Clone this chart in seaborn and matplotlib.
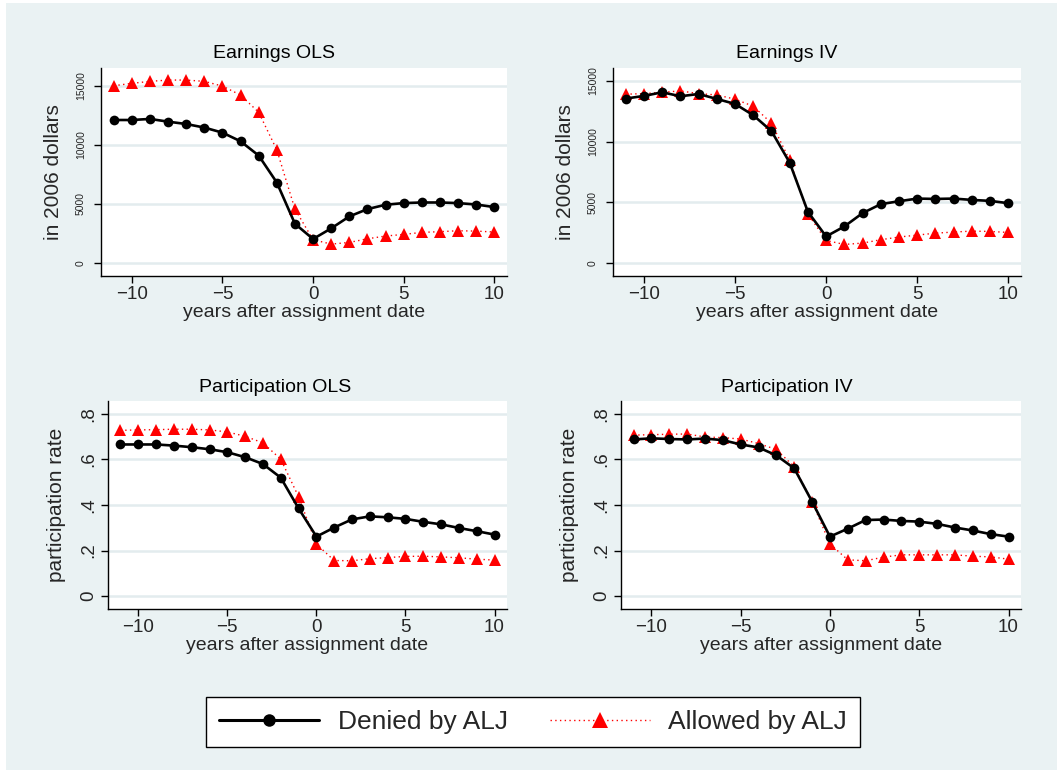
import matplotlib
matplotlib.use("Agg")
import matplotlib.pyplot as plt
from matplotlib.lines import Line2D
from matplotlib.patches import Rectangle
import seaborn as sns
import pandas as pd

sns.set_theme(style="white")
plt.rcParams['font.family'] = ['Liberation Sans', 'DejaVu Sans']

years = list(range(-11, 11))

earn_ols_denied = [12100, 12100, 12190, 11960, 11760, 11460, 11030, 10300, 9090, 6810,
                   3320, 2030, 2930, 3940, 4560, 4930, 5070, 5120, 5120, 5070, 4950, 4730]
earn_ols_allowed = [15000, 15200, 15370, 15480, 15480, 15370, 14970, 14210, 12750, 9570,
                    4560, 1970, 1600, 1740, 2050, 2280, 2420, 2590, 2650, 2730, 2700, 2620]
earn_iv_denied = [13550, 13770, 14070, 13740, 13930, 13520, 13110, 12180, 10870, 8270,
                  4220, 2190, 3010, 4110, 4850, 5090, 5310, 5280, 5310, 5200, 5120, 4930]
earn_iv_allowed = [13910, 13960, 14070, 14180, 13960, 13850, 13500, 12920, 11520, 8490,
                   4050, 1860, 1530, 1640, 1920, 2140, 2300, 2460, 2550, 2630, 2600, 2520]
part_ols_denied = [0.666, 0.666, 0.666, 0.661, 0.654, 0.645, 0.632, 0.610, 0.580, 0.520,
                   0.385, 0.261, 0.301, 0.337, 0.350, 0.346, 0.339, 0.326, 0.315, 0.299, 0.285, 0.270]
part_ols_allowed = [0.728, 0.730, 0.731, 0.733, 0.733, 0.730, 0.721, 0.702, 0.673, 0.601,
                    0.436, 0.228, 0.156, 0.155, 0.164, 0.169, 0.174, 0.175, 0.172, 0.168, 0.162, 0.158]
part_iv_denied = [0.688, 0.693, 0.690, 0.688, 0.692, 0.685, 0.666, 0.653, 0.618, 0.561,
                  0.415, 0.261, 0.296, 0.334, 0.336, 0.330, 0.327, 0.317, 0.301, 0.288, 0.272, 0.261]
part_iv_allowed = [0.707, 0.709, 0.711, 0.712, 0.699, 0.696, 0.690, 0.670, 0.644, 0.568,
                   0.415, 0.229, 0.159, 0.155, 0.171, 0.181, 0.181, 0.181, 0.181, 0.175, 0.172, 0.162]

panel_titles = ["Earnings OLS", "Earnings IV", "Participation OLS", "Participation IV"]
series_labels = ["Denied by ALJ", "Allowed by ALJ"]
x_label = "years after assignment date"
y_labels = ["in 2006 dollars", "in 2006 dollars", "participation rate", "participation rate"]
earn_ticks = [0, 5000, 10000, 15000]
earn_ticklabels = ["0", "5000", "10000", "15000"]
part_ticks = [0, 0.2, 0.4, 0.6, 0.8]
part_ticklabels = ["0", ".2", ".4", ".6", ".8"]
x_ticks = [-10, -5, 0, 5, 10]
x_ticklabels = ["\u221210", "\u22125", "0", "5", "10"]

panels = [
    (earn_ols_denied, earn_ols_allowed),
    (earn_iv_denied, earn_iv_allowed),
    (part_ols_denied, part_ols_allowed),
    (part_iv_denied, part_iv_allowed),
]

BG = "#EAF2F3"
GRID = "#E3ECEE"
W, H = 1057, 770
fig = plt.figure(figsize=(W / 100, H / 100), dpi=100)
fig.patch.set_facecolor("white")
fig.patches.append(Rectangle((6 / W, 0), 1 - 6 / W, 1 - 3 / H, transform=fig.transFigure,
                             facecolor=BG, edgecolor="none", zorder=-10))

# axes rectangles in pixels (x0, y_top, x1, y_bottom)
rects = [(101, 68, 507, 276), (613, 68, 1021, 276), (108, 401, 507, 609), (621, 401, 1021, 609)]
ylims = [(-1100, 16500), (-1070, 16070), (-0.057, 0.857), (-0.057, 0.857)]
title_centers = [274, 787, 275, 787]
title_y = [54, 54, 387, 387]

red_ls = (0, (1.0, 2.4))

for i, ((den, alw), (x0, yt, x1, yb)) in enumerate(zip(panels, rects)):
    ax = fig.add_axes([x0 / W, 1 - yb / H, (x1 - x0) / W, (yb - yt) / H])
    ax.set_facecolor("white")
    df = pd.DataFrame({"year": years, "denied": den, "allowed": alw})
    sns.lineplot(data=df, x="year", y="allowed", ax=ax, color="red", linestyle=red_ls,
                 linewidth=1.0, marker="^", markersize=9, markeredgewidth=0,
                 markerfacecolor="red", errorbar=None, zorder=3)
    sns.lineplot(data=df, x="year", y="denied", ax=ax, color="black", linewidth=1.9,
                 marker="o", markersize=7, markeredgewidth=0, markerfacecolor="black",
                 errorbar=None, zorder=4)
    ax.set_xlim(-11.7, 10.7)
    ax.set_ylim(*ylims[i])
    ax.set_xticks(x_ticks)
    ax.set_xticklabels(x_ticklabels, fontsize=13.5)
    if i < 2:
        ax.set_yticks(earn_ticks)
        ax.set_yticklabels(earn_ticklabels, fontsize=7.5, rotation=90, va="center")
        ax.tick_params(axis="y", pad=6)
    else:
        ax.set_yticks(part_ticks)
        ax.set_yticklabels(part_ticklabels, fontsize=13.5, rotation=90, va="center")
        ax.tick_params(axis="y", pad=3)
    ax.grid(axis="y", color=GRID, linewidth=1.8)
    ax.grid(axis="x", visible=False)
    for s in ["top", "right"]:
        ax.spines[s].set_visible(False)
    for s in ["left", "bottom"]:
        ax.spines[s].set_color("black")
        ax.spines[s].set_linewidth(1.0)
    ax.tick_params(axis="both", direction="out", length=5, width=1, color="black",
                   bottom=True, left=True)
    ax.tick_params(axis="x", pad=2)
    ax.set_xlabel(x_label, fontsize=14, labelpad=1)
    ax.set_ylabel(y_labels[i], fontsize=15, labelpad=9 if i < 2 else 10)
    fig.text(title_centers[i] / W, 1 - title_y[i] / H, panel_titles[i], fontsize=14,
             ha="center", va="center", color="black")

handles = [
    Line2D([], [], color="black", linewidth=2.2, marker="o", markersize=9, markeredgewidth=0),
    Line2D([], [], color="red", linewidth=1.0, linestyle=red_ls, marker="^", markersize=11,
           markeredgewidth=0),
]
leg = fig.legend(handles, series_labels, loc="center", bbox_to_anchor=(533 / W, 1 - 722 / H),
                 ncol=2, frameon=True, fancybox=False, edgecolor="black", facecolor="white",
                 fontsize=19, handlelength=3.8, handletextpad=0.7, columnspacing=1.6,
                 borderpad=0.5, framealpha=1)
leg.get_frame().set_linewidth(1.0)

fig.savefig("out.png", dpi=100, facecolor=fig.get_facecolor())
